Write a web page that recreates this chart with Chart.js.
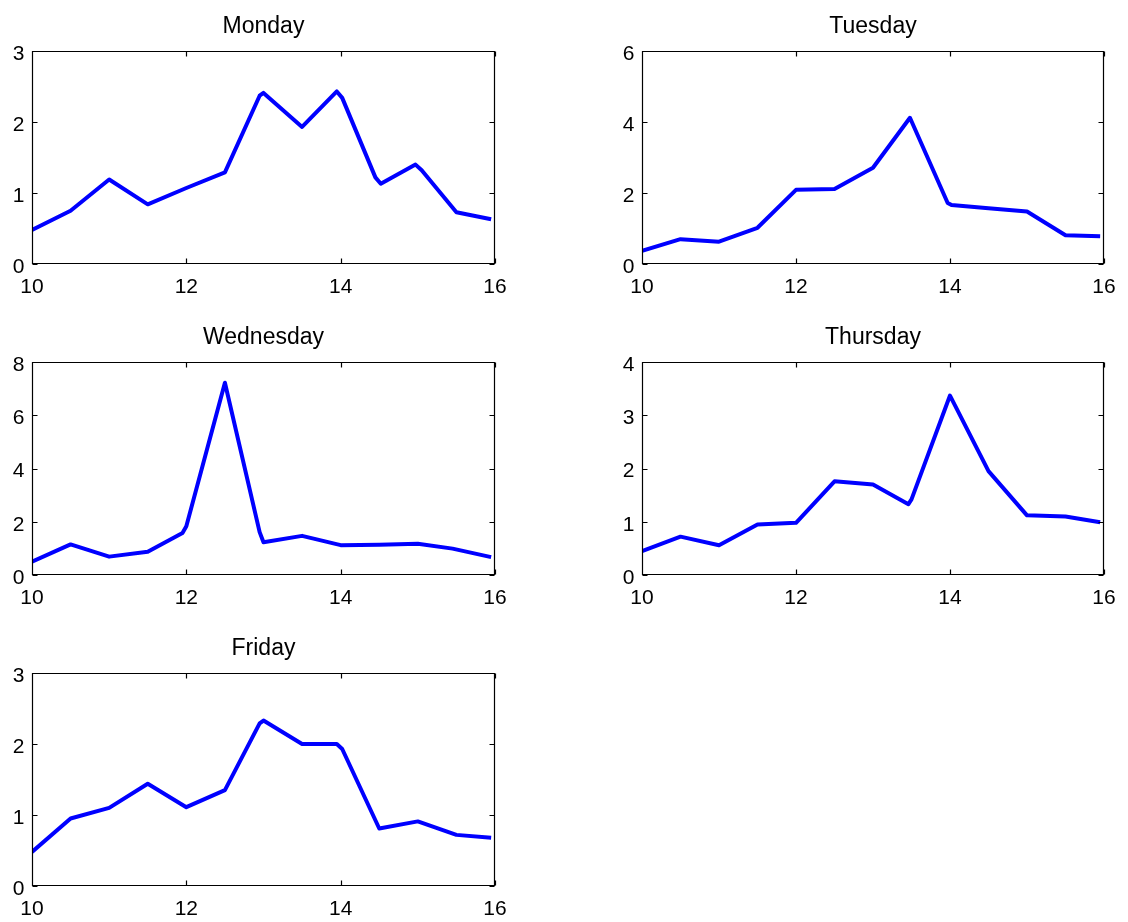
<!DOCTYPE html>
<html>
<head>
<meta charset="utf-8">
<script src="https://cdn.jsdelivr.net/npm/chart.js@4.4.1/dist/chart.umd.min.js"></script>
<style>
  html, body { margin: 0; padding: 0; background: #fff; }
  body { width: 1128px; height: 922px; position: relative; overflow: hidden; }
  canvas { position: absolute; }
</style>
</head>
<body>
<canvas id="monChart" width="520" height="300" style="left:0px;top:0px"></canvas>
<canvas id="tueChart" width="528" height="300" style="left:600px;top:0px"></canvas>
<canvas id="wedChart" width="520" height="300" style="left:0px;top:311px"></canvas>
<canvas id="thuChart" width="528" height="300" style="left:600px;top:311px"></canvas>
<canvas id="friChart" width="520" height="300" style="left:0px;top:622px"></canvas>
<script>
// hour of day (x) and value (y)
const mondayHours = [10, 10.5, 11, 11.5, 12, 12.5, 12.95, 13, 13.5, 13.95, 14.02, 14.45, 14.52, 14.97, 15.05, 15.5, 15.95];
const mondayValues = [0.48, 0.75, 1.19, 0.84, 1.07, 1.29, 2.37, 2.41, 1.93, 2.43, 2.34, 1.22, 1.13, 1.40, 1.32, 0.73, 0.63];

const tuesdayHours = [10, 10.5, 11, 11.5, 12, 12.5, 13, 13.48, 13.97, 14.02, 14.5, 15, 15.5, 15.95];
const tuesdayValues = [0.37, 0.70, 0.63, 1.02, 2.09, 2.11, 2.71, 4.12, 1.72, 1.66, 1.57, 1.48, 0.81, 0.78];

const wednesdayHours = [10, 10.5, 11, 11.5, 11.95, 12, 12.5, 12.95, 13, 13.5, 14, 14.5, 15, 15.45, 15.95];
const wednesdayValues = [0.50, 1.15, 0.69, 0.87, 1.58, 1.83, 7.22, 1.61, 1.23, 1.47, 1.12, 1.14, 1.17, 0.99, 0.67];

const thursdayHours = [10, 10.5, 11, 11.5, 12, 12.5, 13, 13.46, 13.5, 14, 14.5, 15, 15.5, 15.95];
const thursdayValues = [0.45, 0.72, 0.56, 0.95, 0.98, 1.76, 1.70, 1.33, 1.42, 3.37, 1.95, 1.12, 1.10, 0.99];

const fridayHours = [10, 10.5, 11, 11.5, 12, 12.5, 12.95, 13, 13.5, 13.95, 14.02, 14.5, 15, 15.5, 15.95];
const fridayValues = [0.48, 0.95, 1.10, 1.44, 1.11, 1.35, 2.29, 2.33, 2.00, 2.00, 1.93, 0.81, 0.91, 0.72, 0.68];

const xTicks = [10, 12, 14, 16];
const yMax = { Monday: 3, Tuesday: 6, Wednesday: 8, Thursday: 4, Friday: 3 };
const yStep = { Monday: 1, Tuesday: 2, Wednesday: 2, Thursday: 1, Friday: 1 };

const FONT = "'Liberation Sans', Arial, Helvetica, sans-serif";

// matlab-like box with inward ticks on every side
const boxTicks = {
  id: "boxTicks",
  afterDraw(chart) {
    const { ctx, chartArea: a } = chart;
    const xs = chart.scales.x;
    const ys = chart.scales.y;
    const len = 5;
    const L = Math.round(a.left) + 0.5;
    const R = Math.round(a.right) - 0.5;
    const T = Math.round(a.top) + 0.5;
    const B = Math.round(a.bottom) - 0.5;
    ctx.save();
    ctx.strokeStyle = "#000";
    ctx.lineWidth = 1.2;
    ctx.beginPath();
    ctx.rect(L, T, R - L, B - T);
    xs.ticks.forEach((t) => {
      const px = Math.round(xs.getPixelForValue(t.value)) + 0.5;
      ctx.moveTo(px, B);
      ctx.lineTo(px, B - len);
      ctx.moveTo(px, T);
      ctx.lineTo(px, T + len);
    });
    ys.ticks.forEach((t) => {
      const py = Math.round(ys.getPixelForValue(t.value)) + 0.5;
      ctx.moveTo(L, py);
      ctx.lineTo(L + len, py);
      ctx.moveTo(R, py);
      ctx.lineTo(R - len, py);
    });
    ctx.stroke();
    ctx.restore();
  },
};

function makePanel(canvasId, title, hours, values, yAxisWidth, padRight) {
  const ctx = document.getElementById(canvasId);
  const points = hours.map((h, i) => ({ x: h, y: values[i] }));
  new Chart(ctx, {
    type: "line",
    data: {
      datasets: [
        {
          data: points,
          borderColor: "#0000ff",
          borderWidth: 4,
          borderJoinStyle: "round",
          pointRadius: 0,
          tension: 0,
          fill: false,
        },
      ],
    },
    options: {
      responsive: false,
      animation: false,
      layout: { padding: { left: 0, right: padRight, top: 0, bottom: 0 } },
      plugins: {
        legend: { display: false },
        tooltip: { enabled: false },
        title: {
          display: true,
          fullSize: false, // center over the plot box, not the canvas
          text: title,
          color: "#000",
          font: { family: FONT, size: 23, weight: "normal" },
          padding: { top: 12.4, bottom: 11 },
        },
      },
      scales: {
        x: {
          type: "linear",
          min: 10,
          max: 16,
          afterBuildTicks: (scale) => {
            scale.ticks = xTicks.map((v) => ({ value: v }));
          },
          afterFit: (scale) => {
            scale.height = 36;
          },
          grid: { display: false, drawTicks: false },
          border: { display: false },
          ticks: {
            color: "#000",
            padding: 11,
            maxRotation: 0,
            font: { family: FONT, size: 21 },
          },
        },
        y: {
          min: 0,
          max: yMax[title],
          afterFit: (scale) => {
            scale.width = yAxisWidth;
          },
          grid: { display: false, drawTicks: false },
          border: { display: false },
          ticks: {
            stepSize: yStep[title],
            color: "#000",
            padding: 7.5,
            labelOffset: 3,
            font: { family: FONT, size: 21 },
          },
        },
      },
    },
    plugins: [boxTicks],
  });
}

makePanel("monChart", "Monday", mondayHours, mondayValues, 32, 25);
makePanel("tueChart", "Tuesday", tuesdayHours, tuesdayValues, 42, 24);
makePanel("wedChart", "Wednesday", wednesdayHours, wednesdayValues, 32, 25);
makePanel("thuChart", "Thursday", thursdayHours, thursdayValues, 42, 24);
makePanel("friChart", "Friday", fridayHours, fridayValues, 32, 25);
</script>
</body>
</html>
